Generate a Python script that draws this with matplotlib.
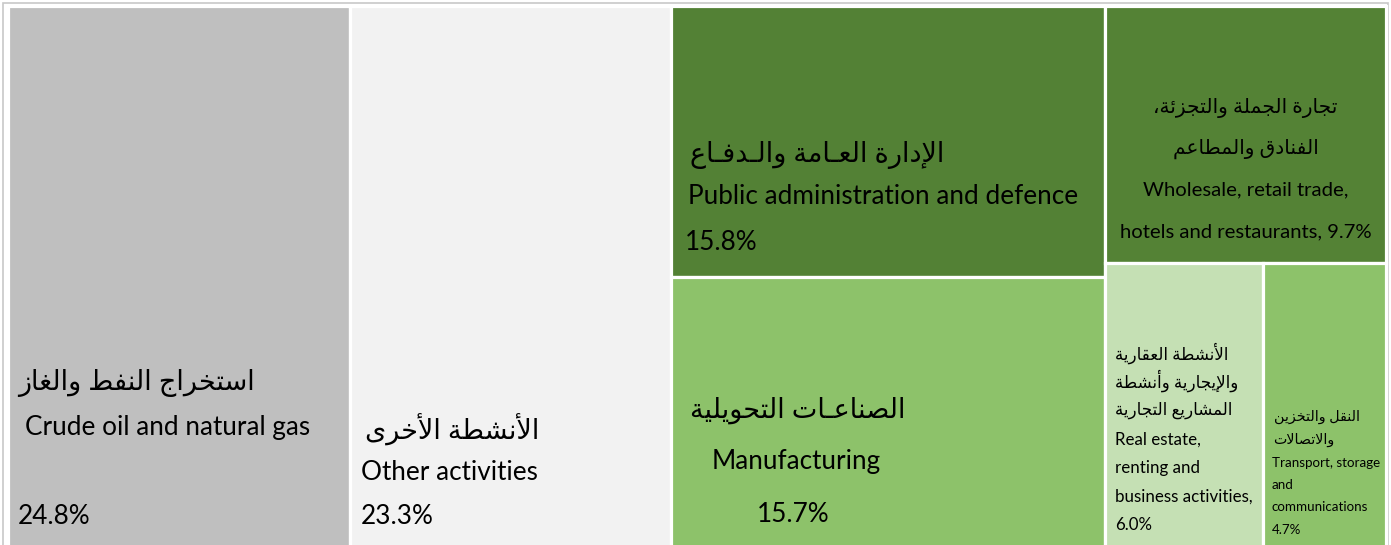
import matplotlib
matplotlib.use('Agg')
import matplotlib.pyplot as plt
from matplotlib.patches import Rectangle

# data
sectors_en = ['Crude oil and natural gas', 'Other activities', 'Public administration and defence',
              'Manufacturing', 'Wholesale, retail trade,\nhotels and restaurants,',
              'Real estate,\nrenting and\nbusiness activities,', 'Transport, storage\nand\ncommunications']
sectors_ar = ['استخراج النفط والغاز', 'الأنشطة الأخرى', 'الإدارة العـامة والـدفـاع',
              'الصناعـات التحويلية', 'تجارة الجملة والتجزئة،\nالفنادق والمطاعم',
              'الأنشطة العقارية\nوالإيجارية وأنشطة\nالمشاريع التجارية', 'النقل والتخزين\nوالاتصالات']
shares = [24.8, 23.3, 15.8, 15.7, 9.7, 6.0, 4.7]
colors = ['#BFBFBF', '#F2F2F2', '#538135', '#8DC26A', '#548235', '#C5E0B4', '#8DC26A']

# treemap columns (an entry that is a tuple is split side by side)
columns = [[0], [1], [2, 3], [4, (5, 6)]]


# --- minimal arabic shaping (matplotlib has no bidi / joining support) ---
_ranges = [(0x0621, 0xFE80, 1), (0x0622, 0xFE81, 2), (0x0623, 0xFE83, 2), (0x0624, 0xFE85, 2),
           (0x0625, 0xFE87, 2), (0x0626, 0xFE89, 4), (0x0627, 0xFE8D, 2), (0x0628, 0xFE8F, 4),
           (0x0629, 0xFE93, 2), (0x062A, 0xFE95, 4), (0x062B, 0xFE99, 4), (0x062C, 0xFE9D, 4),
           (0x062D, 0xFEA1, 4), (0x062E, 0xFEA5, 4), (0x062F, 0xFEA9, 2), (0x0630, 0xFEAB, 2),
           (0x0631, 0xFEAD, 2), (0x0632, 0xFEAF, 2), (0x0633, 0xFEB1, 4), (0x0634, 0xFEB5, 4),
           (0x0635, 0xFEB9, 4), (0x0636, 0xFEBD, 4), (0x0637, 0xFEC1, 4), (0x0638, 0xFEC5, 4),
           (0x0639, 0xFEC9, 4), (0x063A, 0xFECD, 4), (0x0641, 0xFED1, 4), (0x0642, 0xFED5, 4),
           (0x0643, 0xFED9, 4), (0x0644, 0xFEDD, 4), (0x0645, 0xFEE1, 4), (0x0646, 0xFEE5, 4),
           (0x0647, 0xFEE9, 4), (0x0648, 0xFEED, 2), (0x0649, 0xFEEF, 2), (0x064A, 0xFEF1, 4)]
FORMS = {chr(c): [chr(s + k) for k in range(n)] for c, s, n in _ranges}
LAM_ALEF = {'\u0622': 0xFEF5, '\u0623': 0xFEF7, '\u0625': 0xFEF9, '\u0627': 0xFEFB}
TATWEEL = '\u0640'


def joins_next(c):
    return c == TATWEEL or (c in FORMS and len(FORMS[c]) == 4)


def joins_prev(c):
    return c == TATWEEL or (c in FORMS and len(FORMS[c]) > 1)


def shape_line(s):
    out = []
    i = 0
    while i < len(s):
        c = s[i]
        prev = s[i - 1] if i > 0 else None
        p = prev is not None and joins_next(prev)
        if c == '\u0644' and i + 1 < len(s) and s[i + 1] in LAM_ALEF:
            out.append(chr(LAM_ALEF[s[i + 1]] + (1 if p else 0)))
            i += 2
            continue
        if c in FORMS:
            f = FORMS[c]
            nx = len(f) == 4 and i + 1 < len(s) and joins_prev(s[i + 1])
            if p and nx:
                c = f[3]
            elif p and len(f) > 1:
                c = f[1]
            elif nx:
                c = f[2]
            else:
                c = f[0]
        out.append(c)
        i += 1
    return ''.join(reversed(out))


# --- layout ---
def treemap(x0, y0, x1, y1):
    total = sum(shares)
    rects = {}
    x = x0
    for col in columns:
        idx = [j for e in col for j in (e if isinstance(e, tuple) else (e,))]
        csum = sum(shares[j] for j in idx)
        w = (x1 - x0) * csum / total
        y = y0
        for e in col:
            grp = e if isinstance(e, tuple) else (e,)
            gsum = sum(shares[j] for j in grp)
            h = (y1 - y0) * gsum / csum
            xx = x
            for j in grp:
                ww = w * shares[j] / gsum
                rects[j] = (xx, y, ww, h)
                xx += ww
            y += h
        x += w
    return rects


fam = ['Lato', 'DejaVu Sans']
fig = plt.figure(figsize=(13.91, 5.45), dpi=100)
ax = fig.add_axes([0, 0, 1, 1])
ax.set_xlim(0, 1391)
ax.set_ylim(545, 0)
ax.axis('off')

ax.add_patch(Rectangle((3, 3), 1385, 560, facecolor='white', edgecolor='#C8C8C8', lw=1.2))
rects = treemap(8, 6, 1386, 547)
for j, (x, y, w, h) in rects.items():
    ax.add_patch(Rectangle((x, y), w, h, facecolor=colors[j], edgecolor='white', lw=2.3))

pct = ['%.1f%%' % v for v in shares]


def put(txt, x, y, size, ha='left'):
    ax.text(x, y, txt, ha=ha, va='center', fontsize=size, family=fam, color='black')


def put_lines(lines, x, ys, size, ha='left', arabic=False):
    for line, yy in zip(lines, ys):
        put(shape_line(line) if arabic else line, x, yy, size, ha)


# label placement per block: x offset from rect left, line centres (y pixels)
big_en, big_ar = 18.8, 19.5
r = rects
x = r[0][0]
put_lines(sectors_ar[0].split('\n'), x + 10, [383], big_ar, arabic=True)
put(sectors_en[0], x + 17, 428, big_en)
put(pct[0], x + 10, 517, big_en)

x = r[1][0]
put_lines(sectors_ar[1].split('\n'), x + 15, [430], big_ar, arabic=True)
put(sectors_en[1], x + 11, 472, big_en)
put(pct[1], x + 11, 517, big_en)

x = r[2][0]
put_lines(sectors_ar[2].split('\n'), x + 19, [155], big_ar, arabic=True)
put(sectors_en[2], x + 17, 197, big_en)
put(pct[2], x + 14, 243, big_en)

x = r[3][0]
put_lines(sectors_ar[3].split('\n'), x + 19, [410], big_ar, arabic=True)
put(sectors_en[3], x + 41, 462, big_en)
put(pct[3], x + 86, 515, big_en)

x, y, w, h = r[4]
put_lines(sectors_ar[4].split('\n'), x + w / 2, [108, 149], 14.5, ha='center', arabic=True)
put_lines((sectors_en[4] + ' ' + pct[4]).split('\n'), x + w / 2, [190, 232], 14.6, ha='center')

x = r[5][0]
put_lines(sectors_ar[5].split('\n'), x + 10, [353, 381, 410], 12, arabic=True)
put_lines((sectors_en[5] + '\n' + pct[5]).split('\n'), x + 10, [440, 468, 497, 525], 12.2)

x = r[6][0]
put_lines(sectors_ar[6].split('\n'), x + 11, [417, 440], 10.3, arabic=True)
put_lines((sectors_en[6] + '\n' + pct[6]).split('\n'), x + 9, [463, 485, 507, 530], 9.6)

fig.savefig('out.png', dpi=100, facecolor='white')
